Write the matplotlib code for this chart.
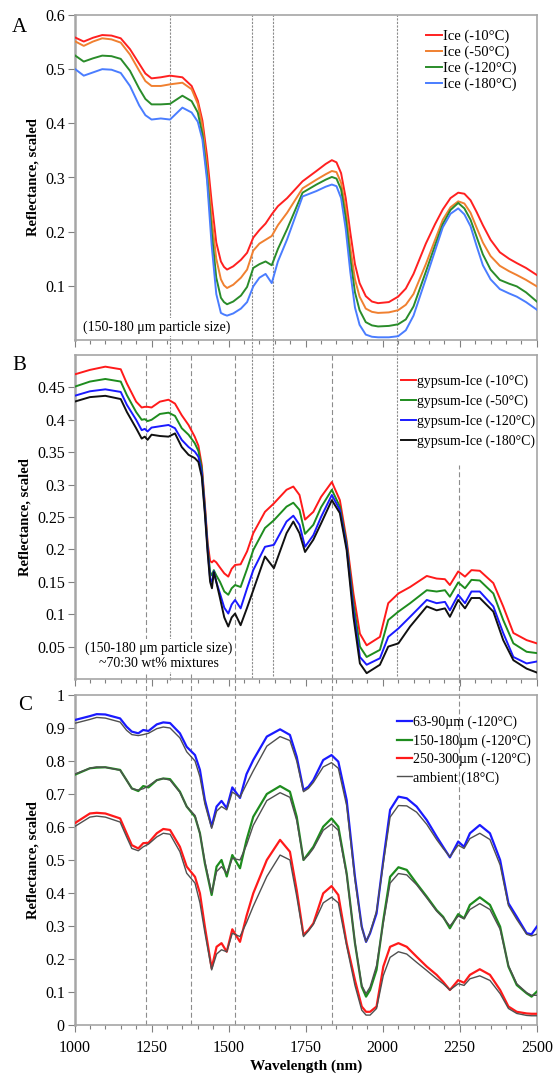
import numpy as np
import matplotlib
matplotlib.use('Agg')
import matplotlib.pyplot as plt

plt.rcParams['font.family'] = ['Liberation Serif', 'DejaVu Serif']

# ---------------- panel A : pure ice, 150-180 um ----------------
wl_a = [1000, 1030, 1060, 1090, 1120, 1150, 1180, 1210, 1230, 1250, 1280, 1310, 1350, 1380,
        1400, 1415, 1430, 1445, 1460, 1475, 1485, 1495, 1515, 1540, 1560, 1580, 1600, 1620,
        1640, 1660, 1690, 1740, 1785, 1815, 1835, 1850, 1865, 1880, 1895, 1910, 1925, 1945,
        1965, 1985, 2020, 2050, 2075, 2100, 2140, 2170, 2195, 2220, 2245, 2265, 2285, 2305,
        2325, 2350, 2380, 2410, 2435, 2465, 2500]
ice_m10 = [0.559, 0.551, 0.558, 0.563, 0.562, 0.557, 0.537, 0.510, 0.492, 0.483, 0.485, 0.488,
           0.485, 0.469, 0.442, 0.405, 0.340, 0.255, 0.180, 0.145, 0.135, 0.130, 0.136, 0.148,
           0.161, 0.189, 0.203, 0.215, 0.232, 0.247, 0.262, 0.293, 0.312, 0.325, 0.332, 0.328,
           0.308, 0.262, 0.198, 0.140, 0.105, 0.081, 0.071, 0.068, 0.070, 0.080, 0.095, 0.122,
           0.178, 0.214, 0.241, 0.262, 0.272, 0.270, 0.258, 0.236, 0.212, 0.185, 0.162, 0.150,
           0.142, 0.133, 0.120]
ice_m50 = [0.552, 0.543, 0.551, 0.557, 0.555, 0.549, 0.527, 0.497, 0.478, 0.469, 0.469, 0.472,
           0.475, 0.463, 0.436, 0.395, 0.320, 0.225, 0.150, 0.112, 0.101, 0.096, 0.102, 0.115,
           0.130, 0.165, 0.178, 0.185, 0.192, 0.212, 0.235, 0.280, 0.296, 0.306, 0.312, 0.310,
           0.290, 0.242, 0.170, 0.112, 0.080, 0.058, 0.052, 0.050, 0.051, 0.055, 0.065, 0.085,
           0.140, 0.185, 0.222, 0.245, 0.256, 0.252, 0.235, 0.207, 0.180, 0.155, 0.137, 0.127,
           0.120, 0.111, 0.099]
ice_m120 = [0.526, 0.514, 0.520, 0.525, 0.524, 0.519, 0.497, 0.464, 0.445, 0.435, 0.435, 0.436,
            0.451, 0.441, 0.420, 0.380, 0.305, 0.200, 0.115, 0.078, 0.070, 0.066, 0.071, 0.082,
            0.098, 0.133, 0.140, 0.145, 0.138, 0.168, 0.205, 0.272, 0.287, 0.296, 0.301, 0.298,
            0.278, 0.225, 0.150, 0.088, 0.055, 0.033, 0.027, 0.025, 0.026, 0.029, 0.038, 0.062,
            0.126, 0.175, 0.214, 0.240, 0.253, 0.243, 0.222, 0.190, 0.158, 0.130, 0.111, 0.104,
            0.099, 0.088, 0.071]
ice_m180 = [0.501, 0.488, 0.494, 0.500, 0.499, 0.493, 0.469, 0.433, 0.415, 0.407, 0.409, 0.407,
            0.429, 0.420, 0.403, 0.370, 0.295, 0.175, 0.085, 0.050, 0.047, 0.045, 0.049, 0.058,
            0.070, 0.099, 0.115, 0.122, 0.105, 0.145, 0.186, 0.265, 0.275, 0.283, 0.287, 0.284,
            0.262, 0.205, 0.125, 0.060, 0.028, 0.010, 0.006, 0.005, 0.005, 0.007, 0.018, 0.045,
            0.113, 0.165, 0.208, 0.233, 0.243, 0.232, 0.210, 0.173, 0.138, 0.112, 0.094, 0.086,
            0.080, 0.070, 0.056]
labels_a = ['Ice (-10°C)', 'Ice (-50°C)', 'Ice (-120°C)', 'Ice (-180°C)']
colors_a = ['#ff2020', '#f08030', '#2a8c2a', '#4a7dff']

# ---------------- panel B : gypsum-ice mixtures ----------------
wl_b = [1000, 1050, 1100, 1150, 1170, 1200, 1218, 1228, 1237, 1250, 1277, 1305, 1326, 1348,
        1370, 1390, 1402, 1413, 1423, 1432, 1440, 1446, 1452, 1460, 1472, 1486, 1499, 1510,
        1521, 1539, 1560, 1580, 1618, 1647, 1688, 1710, 1730, 1748, 1775, 1800, 1835, 1861,
        1883, 1905, 1926, 1948, 1991, 2018, 2051, 2089, 2143, 2175, 2202, 2218, 2245, 2267,
        2288, 2315, 2359, 2391, 2424, 2467, 2500]
gyp_m10 = [0.470, 0.477, 0.482, 0.478, 0.456, 0.428, 0.419, 0.420, 0.420, 0.419, 0.428, 0.431,
           0.425, 0.407, 0.392, 0.374, 0.360, 0.330, 0.270, 0.210, 0.182, 0.180, 0.183, 0.180,
           0.172, 0.163, 0.158, 0.170, 0.176, 0.177, 0.197, 0.225, 0.258, 0.271, 0.292, 0.297,
           0.284, 0.246, 0.258, 0.281, 0.304, 0.276, 0.214, 0.132, 0.070, 0.052, 0.065, 0.117,
           0.132, 0.142, 0.159, 0.155, 0.154, 0.145, 0.166, 0.158, 0.168, 0.167, 0.148, 0.112,
           0.071, 0.060, 0.055]
gyp_m50 = [0.451, 0.459, 0.463, 0.459, 0.438, 0.412, 0.400, 0.401, 0.398, 0.400, 0.409, 0.411,
           0.406, 0.387, 0.377, 0.364, 0.352, 0.325, 0.265, 0.205, 0.165, 0.160, 0.168, 0.160,
           0.150, 0.135, 0.130, 0.140, 0.145, 0.142, 0.170, 0.199, 0.233, 0.245, 0.266, 0.272,
           0.261, 0.224, 0.238, 0.265, 0.292, 0.266, 0.209, 0.117, 0.050, 0.034, 0.045, 0.091,
           0.104, 0.117, 0.137, 0.135, 0.137, 0.127, 0.149, 0.140, 0.153, 0.152, 0.132, 0.091,
           0.055, 0.042, 0.040]
gyp_m120 = [0.437, 0.444, 0.447, 0.443, 0.423, 0.400, 0.384, 0.386, 0.382, 0.388, 0.390, 0.392,
            0.387, 0.369, 0.358, 0.351, 0.343, 0.318, 0.260, 0.200, 0.155, 0.150, 0.166, 0.150,
            0.132, 0.110, 0.101, 0.115, 0.122, 0.109, 0.140, 0.168, 0.204, 0.207, 0.243, 0.252,
            0.238, 0.204, 0.222, 0.250, 0.284, 0.261, 0.204, 0.106, 0.034, 0.022, 0.032, 0.065,
            0.078, 0.096, 0.122, 0.117, 0.119, 0.106, 0.130, 0.117, 0.135, 0.135, 0.112, 0.071,
            0.034, 0.024, 0.027]
gyp_m180 = [0.428, 0.435, 0.437, 0.432, 0.412, 0.387, 0.371, 0.374, 0.369, 0.377, 0.375, 0.374,
            0.379, 0.358, 0.346, 0.341, 0.335, 0.312, 0.255, 0.195, 0.150, 0.140, 0.165, 0.150,
            0.125, 0.095, 0.081, 0.095, 0.101, 0.083, 0.110, 0.137, 0.189, 0.171, 0.225, 0.243,
            0.225, 0.196, 0.215, 0.240, 0.276, 0.256, 0.199, 0.096, 0.024, 0.009, 0.022, 0.050,
            0.055, 0.081, 0.112, 0.106, 0.109, 0.096, 0.122, 0.109, 0.125, 0.125, 0.104, 0.060,
            0.029, 0.016, 0.010]
labels_b = ['gypsum-Ice (-10°C)', 'gypsum-Ice (-50°C)', 'gypsum-Ice (-120°C)', 'gypsum-Ice (-180°C)']
colors_b = ['#ff1a1a', '#1e8c1e', '#1a1aff', '#111111']

# ---------------- panel C : grain sizes vs ambient ----------------
wl_c = [1000, 1050, 1072, 1100, 1148, 1169, 1186, 1207, 1223, 1240, 1267, 1288, 1310, 1342,
        1364, 1391, 1407, 1423, 1445, 1461, 1477, 1494, 1512, 1537, 1558, 1580, 1624, 1667,
        1699, 1721, 1743, 1759, 1775, 1807, 1834, 1856, 1883, 1910, 1932, 1946, 1959, 1980,
        2002, 2024, 2051, 2078, 2110, 2143, 2175, 2196, 2218, 2245, 2264, 2283, 2315, 2348,
        2381, 2408, 2435, 2467, 2483, 2500]
g63_cold = [0.924, 0.936, 0.942, 0.941, 0.929, 0.904, 0.889, 0.884, 0.894, 0.891, 0.911, 0.917,
            0.915, 0.884, 0.843, 0.818, 0.773, 0.682, 0.601, 0.662, 0.679, 0.657, 0.720, 0.688,
            0.760, 0.803, 0.874, 0.896, 0.879, 0.813, 0.712, 0.722, 0.742, 0.803, 0.818, 0.798,
            0.682, 0.449, 0.298, 0.252, 0.278, 0.338, 0.500, 0.652, 0.692, 0.687, 0.662, 0.621,
            0.571, 0.540, 0.508, 0.556, 0.540, 0.581, 0.606, 0.581, 0.500, 0.369, 0.328, 0.278,
            0.275, 0.298]
g63_amb = [0.914, 0.926, 0.932, 0.930, 0.918, 0.893, 0.880, 0.877, 0.880, 0.884, 0.898, 0.903,
           0.900, 0.870, 0.828, 0.800, 0.752, 0.670, 0.596, 0.648, 0.662, 0.652, 0.706, 0.690,
           0.730, 0.770, 0.845, 0.874, 0.862, 0.800, 0.707, 0.717, 0.735, 0.782, 0.795, 0.778,
           0.665, 0.440, 0.295, 0.252, 0.280, 0.345, 0.490, 0.630, 0.665, 0.664, 0.645, 0.608,
           0.562, 0.535, 0.510, 0.545, 0.535, 0.565, 0.581, 0.562, 0.485, 0.362, 0.320, 0.275,
           0.270, 0.275]
g150_cold = [0.758, 0.778, 0.780, 0.781, 0.773, 0.742, 0.717, 0.709, 0.724, 0.720, 0.742, 0.747,
             0.745, 0.707, 0.662, 0.631, 0.581, 0.490, 0.394, 0.480, 0.500, 0.450, 0.515, 0.475,
             0.560, 0.631, 0.700, 0.724, 0.707, 0.631, 0.500, 0.520, 0.540, 0.601, 0.626, 0.601,
             0.460, 0.248, 0.116, 0.086, 0.106, 0.167, 0.318, 0.449, 0.478, 0.470, 0.429, 0.389,
             0.348, 0.328, 0.293, 0.336, 0.323, 0.364, 0.387, 0.364, 0.298, 0.177, 0.121, 0.096,
             0.086, 0.101]
g150_amb = [0.760, 0.778, 0.782, 0.781, 0.772, 0.742, 0.716, 0.712, 0.716, 0.725, 0.742, 0.747,
            0.742, 0.705, 0.662, 0.635, 0.580, 0.495, 0.400, 0.465, 0.480, 0.460, 0.505, 0.500,
            0.545, 0.605, 0.680, 0.704, 0.690, 0.620, 0.500, 0.515, 0.535, 0.590, 0.609, 0.590,
            0.455, 0.250, 0.120, 0.095, 0.115, 0.180, 0.310, 0.430, 0.459, 0.455, 0.425, 0.385,
            0.345, 0.325, 0.300, 0.330, 0.322, 0.350, 0.368, 0.350, 0.290, 0.180, 0.125, 0.098,
            0.090, 0.090]
g250_cold = [0.611, 0.641, 0.643, 0.641, 0.626, 0.581, 0.545, 0.535, 0.551, 0.552, 0.581, 0.594,
             0.591, 0.540, 0.480, 0.449, 0.399, 0.298, 0.172, 0.237, 0.248, 0.222, 0.290, 0.252,
             0.330, 0.399, 0.500, 0.561, 0.525, 0.409, 0.273, 0.288, 0.308, 0.399, 0.421, 0.394,
             0.248, 0.136, 0.056, 0.040, 0.040, 0.056, 0.177, 0.237, 0.248, 0.237, 0.207, 0.177,
             0.152, 0.131, 0.106, 0.136, 0.128, 0.152, 0.169, 0.152, 0.106, 0.056, 0.040, 0.035,
             0.034, 0.034]
g250_amb = [0.601, 0.630, 0.633, 0.630, 0.615, 0.570, 0.535, 0.528, 0.540, 0.548, 0.570, 0.581,
            0.578, 0.525, 0.460, 0.430, 0.370, 0.280, 0.167, 0.215, 0.228, 0.222, 0.278, 0.268,
            0.310, 0.360, 0.450, 0.515, 0.500, 0.390, 0.268, 0.285, 0.305, 0.370, 0.387, 0.370,
            0.240, 0.120, 0.045, 0.030, 0.030, 0.050, 0.150, 0.205, 0.222, 0.215, 0.190, 0.165,
            0.140, 0.125, 0.106, 0.125, 0.120, 0.140, 0.149, 0.135, 0.095, 0.050, 0.035, 0.029,
            0.028, 0.028]
labels_c = ['63-90µm (-120°C)', '150-180µm (-120°C)', '250-300µm (-120°C)', 'ambient (18°C)']
colors_c = ['#1a1aff', '#1e8c1e', '#ff1a1a', '#505050']

# vertical guide lines: wavelength, top pixel, bottom pixel, fine dashes?
guide_wl = [1232, 1310, 1379, 1520, 1576, 1645, 1836, 2047, 2248]
guide_top = [355, 15, 355, 355, 15, 15, 355, 15, 465]
guide_bot = [1025, 680, 1025, 1025, 678, 676, 1025, 676, 1025]
guide_fine = [False, True, False, False, True, True, False, True, False]

W, H = 554.0, 1074.0
AX_LEFT, AX_RIGHT = 74.5, 536.8


def make_axes(fig, top_px, bot_px):
    return fig.add_axes([AX_LEFT / W, 1 - bot_px / H, (AX_RIGHT - AX_LEFT) / W,
                         (bot_px - top_px) / H])


def style_axes(ax, yticks, ylim, show_x):
    ax.set_xlim(1000, 2500)
    ax.set_ylim(*ylim)
    ax.set_xticks([1000, 1250, 1500, 1750, 2000, 2250, 2500])
    ax.set_xticks(np.arange(1000, 2501, 50), minor=True)
    ax.set_yticks(yticks)
    ax.set_yticklabels([('%g' % t) for t in yticks])
    ax.tick_params(axis='both', which='major', direction='out', length=5, width=0.8,
                   color='#808080', labelsize=11.5, top=False, right=False)
    ax.tick_params(axis='x', which='minor', direction='out', length=3, width=0.8,
                   color='#808080')
    ax.tick_params(axis='x', labelbottom=show_x, pad=6)
    ax.tick_params(axis='y', pad=2)
    for sp in ax.spines.values():
        sp.set_color('#a6a6a6')
        sp.set_linewidth(1.2)
    ax.spines['left'].set_linewidth(1.8)
    ax.set_ylabel('Reflectance, scaled', fontsize=10.5, fontweight='bold', labelpad=4)


def draw_guides(axes):
    prev_bottom = None
    for ax in axes:
        pos = ax.get_position()
        own_top = pos.y1 if prev_bottom is None else prev_bottom
        for wl, t, b, fine in zip(guide_wl, guide_top, guide_bot, guide_fine):
            lt = min(1 - t / H, own_top)
            lb = max(1 - b / H, pos.y0)
            if lt <= lb:
                continue
            ymin = (lb - pos.y0) / pos.height
            ymax = (lt - pos.y0) / pos.height
            ax.axvline(wl, ymin=ymin, ymax=ymax, color='#8c8c8c', lw=0.8,
                       dashes=(2, 1.2) if fine else (4.5, 2.5), clip_on=False, zorder=1)
        prev_bottom = pos.y0


def add_legend(ax, fig, left_px, top_px, fontsize, spacing):
    ax.legend(loc='upper left', bbox_to_anchor=(left_px / W, 1 - top_px / H),
              bbox_transform=fig.transFigure, frameon=False, fontsize=fontsize,
              handlelength=1.1, handletextpad=0.05, labelspacing=spacing,
              borderpad=0, borderaxespad=0)


fig = plt.figure(figsize=(W / 100, H / 100), dpi=100)
ax_a = make_axes(fig, 15, 340)
ax_b = make_axes(fig, 355, 679)
ax_c = make_axes(fig, 695, 1025)

# panel A
for y, lab, col in zip([ice_m10, ice_m50, ice_m120, ice_m180], labels_a, colors_a):
    ax_a.plot(wl_a, y, color=col, lw=1.4, label=lab, zorder=3, solid_joinstyle='round')
style_axes(ax_a, [0.1, 0.2, 0.3, 0.4, 0.5, 0.6], (0, 0.6), False)
add_legend(ax_a, fig, 426, 30, 10.5, 0.16)
ax_a.text(0.018, 0.04, '(150-180 μm particle size)', transform=ax_a.transAxes, fontsize=10,
          ha='left', va='center', zorder=5,
          bbox=dict(facecolor='white', edgecolor='none', pad=1.5))

# panel B
for y, lab, col in zip([gyp_m10, gyp_m50, gyp_m120, gyp_m180], labels_b, colors_b):
    ax_b.plot(wl_b, y, color=col, lw=1.4, label=lab, zorder=3, solid_joinstyle='round')
style_axes(ax_b, [0.05, 0.1, 0.15, 0.2, 0.25, 0.3, 0.35, 0.4, 0.45], (0, 0.5), False)
add_legend(ax_b, fig, 401, 375, 10, 0.45)
ax_b.text(0.182, 0.072, '(150-180 μm particle size)\n~70:30 wt% mixtures',
          transform=ax_b.transAxes, fontsize=10, ha='center', va='center', zorder=5,
          linespacing=1.15, bbox=dict(facecolor='white', edgecolor='none', pad=2))

# panel C
for y, lab, col in zip([g63_cold, g150_cold, g250_cold], labels_c[:3], colors_c[:3]):
    ax_c.plot(wl_c, y, color=col, lw=1.6, label=lab, zorder=3, solid_joinstyle='round')
ax_c.plot(wl_c, g63_amb, color=colors_c[3], lw=1.0, label=labels_c[3], zorder=4)
ax_c.plot(wl_c, g150_amb, color=colors_c[3], lw=1.0, zorder=4)
ax_c.plot(wl_c, g250_amb, color=colors_c[3], lw=1.0, zorder=4)
style_axes(ax_c, [0, 0.1, 0.2, 0.3, 0.4, 0.5, 0.6, 0.7, 0.8, 0.9, 1], (0, 1), True)
add_legend(ax_c, fig, 397, 716, 10, 0.35)
ax_c.set_xlabel('Wavelength (nm)', fontsize=11, fontweight='bold', labelpad=2)

draw_guides([ax_a, ax_b, ax_c])

# panel letters
fig.text(12 / W, 1 - 27 / H, 'A', fontsize=15, ha='left', va='center')
fig.text(12 / W, 1 - 365 / H, 'B', fontsize=15, ha='left', va='center')
fig.text(18 / W, 1 - 705 / H, 'C', fontsize=15, ha='left', va='center')

fig.savefig('out.png', dpi=100)
